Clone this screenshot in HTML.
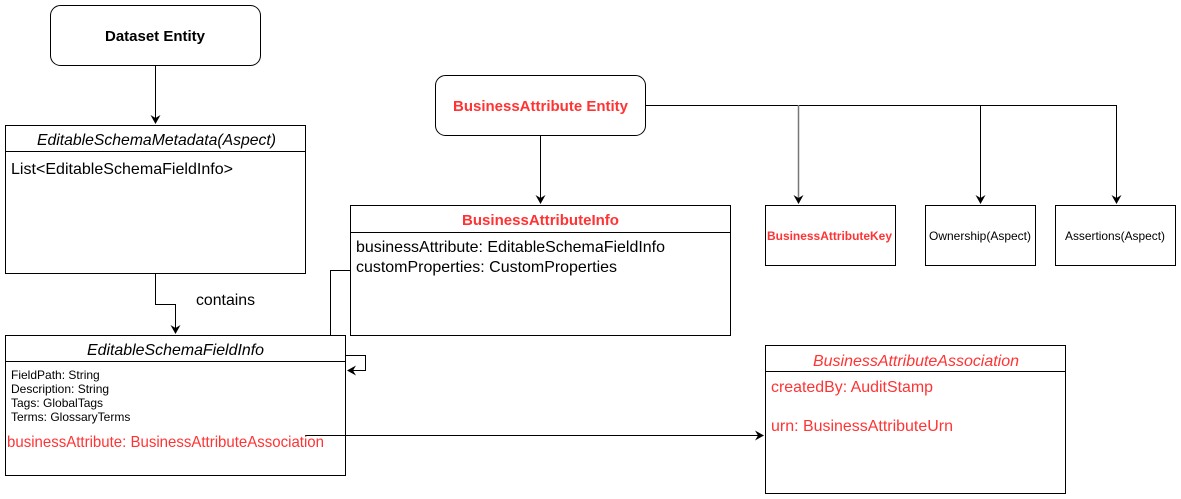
<!DOCTYPE html>
<html><head><meta charset="utf-8"><style>
html,body{margin:0;padding:0;background:#fff;}
svg{display:block;font-family:"Liberation Sans",Helvetica,Arial,sans-serif;}
</style></head><body>
<svg width="1181" height="499" viewBox="0 0 1181 499" xmlns="http://www.w3.org/2000/svg">
<defs><marker id="a" markerWidth="10" markerHeight="10" refX="8" refY="5" orient="auto" markerUnits="userSpaceOnUse"><path d="M0,0 L9,5 L0,10 L3,5 z" fill="#000"/></marker></defs>
<g fill="none" stroke="#000" stroke-width="1">
<rect x="50.5" y="5.5" width="210" height="60" rx="10"/>
<rect x="5.5" y="125.5" width="300" height="148"/><line x1="5" y1="151.5" x2="305" y2="151.5"/>
<rect x="5.5" y="335.5" width="340" height="140"/><line x1="5" y1="361.5" x2="345" y2="361.5"/>
<rect x="435.5" y="75.5" width="210" height="60" rx="10"/>
<rect x="350.5" y="205.5" width="380" height="130"/><line x1="350" y1="232.5" x2="730" y2="232.5"/>
<rect x="765.5" y="205.5" width="130" height="60"/>
<rect x="925.5" y="205.5" width="110" height="60"/>
<rect x="1055.5" y="205.5" width="120" height="60"/>
<rect x="765.5" y="345.5" width="300" height="148"/><line x1="765" y1="371.5" x2="1065" y2="371.5"/>
<path d="M155.5 65 V123" marker-end="url(#a)"/>
<path d="M155.5 273 V304.5 H175.5 V333" marker-end="url(#a)"/>
<path d="M330.5 335 V270.5 H350"/>
<path d="M345 355.5 H365.5 V370.5 H348" marker-end="url(#a)"/>
<path d="M305 435.5 H763" marker-end="url(#a)"/>
<path d="M540.5 135 V203" marker-end="url(#a)"/>
<path d="M645 105.5 H1116.5"/>
<path d="M798.5 105 V203" stroke="#777" stroke-width="1.5" marker-end="url(#a)"/>
<path d="M980.5 105 V203" marker-end="url(#a)"/>
<path d="M1116.5 105 V203" marker-end="url(#a)"/>
</g>
<g font-size="15" fill="#000">
<text x="105" y="41" font-weight="bold" textLength="100" lengthAdjust="spacingAndGlyphs">Dataset Entity</text>
<text x="37" y="145" font-style="italic" font-size="16" textLength="239" lengthAdjust="spacingAndGlyphs">EditableSchemaMetadata(Aspect)</text>
<text x="11" y="174" font-size="16" textLength="222" lengthAdjust="spacingAndGlyphs">List&lt;EditableSchemaFieldInfo&gt;</text>
<text x="196" y="305" font-size="16" textLength="59" lengthAdjust="spacingAndGlyphs">contains</text>
<text x="87" y="355" font-style="italic" font-size="16" textLength="177" lengthAdjust="spacingAndGlyphs">EditableSchemaFieldInfo</text>
<g font-size="12"><text x="11" y="379">FieldPath: String</text><text x="11" y="393">Description: String</text><text x="11" y="407">Tags: GlobalTags</text><text x="11" y="421">Terms: GlossaryTerms</text></g>
<text x="7" y="447" font-size="16" fill="#ff3333" textLength="317" lengthAdjust="spacingAndGlyphs">businessAttribute: BusinessAttributeAssociation</text>
<text x="453" y="111" font-weight="bold" fill="#ff3333" textLength="175" lengthAdjust="spacingAndGlyphs">BusinessAttribute Entity</text>
<text x="462" y="225" font-weight="bold" fill="#ff3333" textLength="157" lengthAdjust="spacingAndGlyphs">BusinessAttributeInfo</text>
<text x="356" y="252" font-size="16" textLength="309" lengthAdjust="spacingAndGlyphs">businessAttribute: EditableSchemaFieldInfo</text>
<text x="356" y="272" font-size="16" textLength="261" lengthAdjust="spacingAndGlyphs">customProperties: CustomProperties</text>
<text x="767" y="240" font-size="12" font-weight="bold" fill="#ff3333" textLength="125" lengthAdjust="spacingAndGlyphs">BusinessAttributeKey</text>
<text x="929" y="240" font-size="12" textLength="102" lengthAdjust="spacingAndGlyphs">Ownership(Aspect)</text>
<text x="1065" y="240" font-size="12" textLength="100" lengthAdjust="spacingAndGlyphs">Assertions(Aspect)</text>
<text x="813" y="366" font-style="italic" font-size="16" fill="#ff3333" textLength="206" lengthAdjust="spacingAndGlyphs">BusinessAttributeAssociation</text>
<text x="771" y="392" font-size="16" fill="#ff3333" textLength="162" lengthAdjust="spacingAndGlyphs">createdBy: AuditStamp</text>
<text x="771" y="431" font-size="16" fill="#ff3333" textLength="182" lengthAdjust="spacingAndGlyphs">urn: BusinessAttributeUrn</text>
</g>
</svg>
</body></html>
